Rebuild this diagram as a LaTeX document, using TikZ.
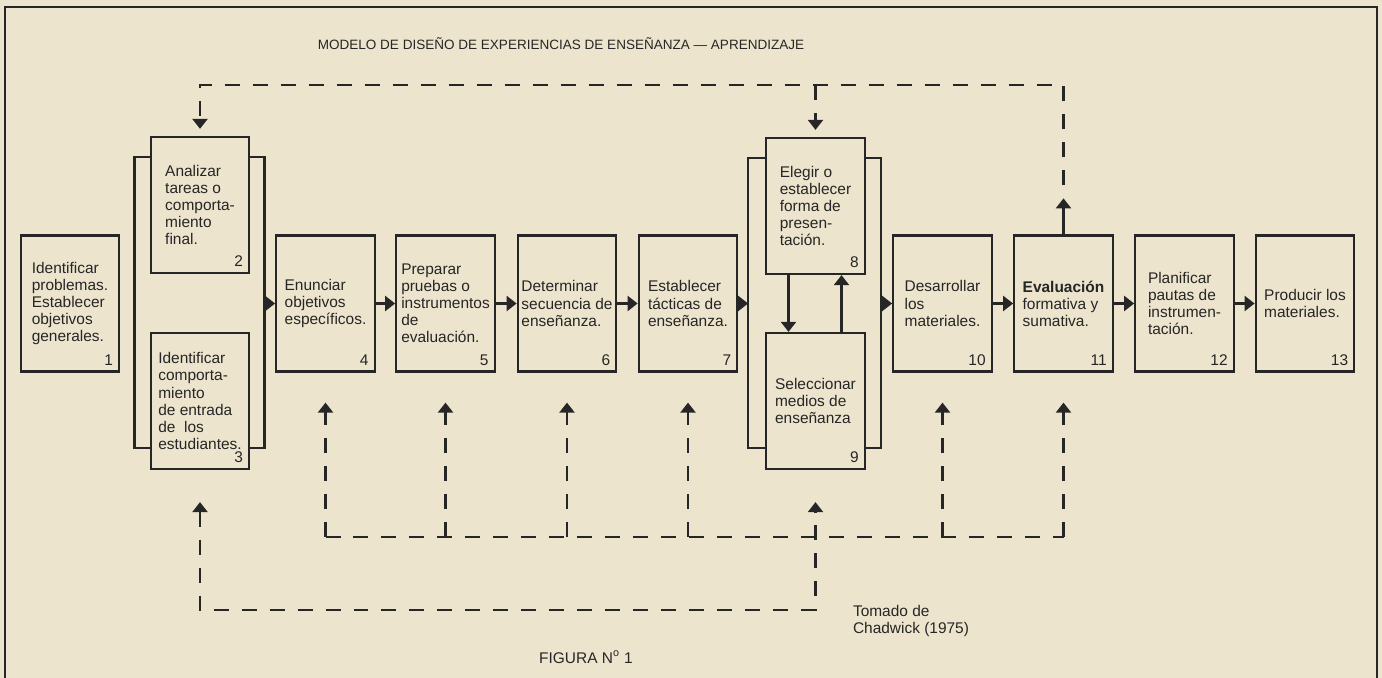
\documentclass[tikz,border=0pt]{standalone}
\usepackage{fontspec}
\setmainfont{Liberation Sans}
\usetikzlibrary{arrows.meta,calc,positioning}

\definecolor{papel}{RGB}{237,228,205}
\definecolor{tinta}{RGB}{38,38,38}

\begin{document}
\begin{tikzpicture}
	[x=0.02cm,y=-0.02cm,line width=1.3pt,color=tinta,
	>={Triangle[width=0.3cm,length=0.2cm]},
	paso/.style={shape=rectangle,draw,minimum width=1.97cm,minimum height=2.72cm,
		inner sep=1pt,align=left,font=\fontsize{8.8}{9.7}\selectfont},
	num/.style={anchor=south east,inner sep=3.5pt,font=\fontsize{8.8}{9.7}\selectfont},
	retro/.style={dash pattern=on 0.3cm off 0.26cm},
	nota/.style={align=left,font=\fontsize{8.8}{9.7}\selectfont}]
	\path[use as bounding box,fill=papel] (0,0) rectangle (1382,678);
	\draw (5,678) -- (5,7) -- (1377,7) -- (1377,678);
	\node[font=\fontsize{7.7}{9}\selectfont] (titulo) at (561,44)
	{MODELO DE DISEÑO DE EXPERIENCIAS DE ENSEÑANZA — APRENDIZAJE};
	% pasos
	\node[paso,label={[num]south east:1}] (p1) at (70,303.5)
	{Identificar\\problemas.\\Establecer\\objetivos\\generales.};
	\node[paso,label={[num]south east:2}] (p2) at (200,205)
	{Analizar\\tareas o\\comporta-\\miento\\final.};
	\node[paso,label={[num]south east:3}] (p3) at (200,401)
	{Identificar\\comporta-\\miento\\de entrada\\de\ \ los\\estudiantes.};
	\node[paso,label={[num]south east:4}] (p4) at (325.5,303.5)
	{Enunciar\\objetivos\\específicos.};
	\node[paso,label={[num]south east:5}] (p5) at (445.5,303.5)
	{Preparar\\pruebas o\\instrumentos\\de\\evaluación.};
	\node[paso,label={[num]south east:6}] (p6) at (567,303.5)
	{Determinar\\secuencia de\\enseñanza.};
	\node[paso,label={[num]south east:7}] (p7) at (688,303.5)
	{Establecer\\tácticas de\\enseñanza.};
	\node[paso,label={[num]south east:8}] (p8) at (815.5,206)
	{Elegir o\\establecer\\forma de\\presen-\\tación.};
	\node[paso,label={[num]south east:9}] (p9) at (815.5,401)
	{Seleccionar\\medios de\\enseñanza};
	\node[paso,label={[num]south east:10}] (p10) at (942.5,303.5)
	{Desarrollar\\los\\materiales.};
	\node[paso,label={[num]south east:11}] (p11) at (1063.5,303.5)
	{\textbf{Evaluación}\\formativa y\\sumativa.};
	\node[paso,label={[num]south east:12}] (p12) at (1184.5,303.5)
	{Planificar\\pautas de\\instrumen-\\tación.};
	\node[paso,label={[num]south east:13}] (p13) at (1305,303.5)
	{Producir los\\materiales.};
	% corchetes
	\draw ($(p2.north west)+(0,21)$) -- ++(-15,0) -- ($(p3.south west)+(-15,-22)$) -- ++(15,0);
	\draw ($(p2.north east)+(0,21)$) -- ++(14,0) -- ($(p3.south east)+(14,-22)$) -- ++(-14,0);
	\draw ($(p8.north west)+(0,21)$) -- ++(-17,0) -- ($(p9.south west)+(-17,-22)$) -- ++(17,0);
	\draw ($(p8.north east)+(0,21)$) -- ++(15,0) -- ($(p9.south east)+(15,-22)$) -- ++(-15,0);
	\coordinate (k1) at ($(p2.east |- p4.west)+(14,0)$);
	\coordinate (k2) at ($(p8.west |- p4.west)+(-17,0)$);
	\coordinate (k3) at ($(p8.east |- p4.west)+(15,0)$);
	% flechas
	\draw[->] (k1) -- (p4);
	\draw[->] (p4) -- (p5);
	\draw[->] (p5) -- (p6);
	\draw[->] (p6) -- (p7);
	\draw[->] (p7) -- (k2);
	\draw[->] (k3) -- (p10);
	\draw[->] (p10) -- (p11);
	\draw[->] (p11) -- (p12);
	\draw[->] (p12) -- (p13);
	\draw[->] ($(p8.south)+(-27,0)$) -- ($(p9.north)+(-27,0)$);
	\draw[->] ($(p9.north)+(26,0)$) -- ($(p8.south)+(26,0)$);
	% retroalimentacion
	\coordinate (arriba) at (0,85);
	\coordinate (abajo) at (0,537);
	\coordinate (fondo) at (0,610);
	\coordinate (e11) at ($(p11.north)+(0,-36)$);
	\draw[->] (p11.north) -- (e11);
	\draw[retro,->,shorten >=0.14cm,dash phase=0.3cm] (e11) |- (p2.north |- arriba) -- (p2.north);
	\draw[retro,->,shorten >=0.14cm] (p8.north |- arriba) -- (p8.north);
	\draw[retro] (p4.south |- abajo) -- (p11.south |- abajo);
	\draw[retro,->,shorten >=0.6cm] (p4.south |- abajo) -- (p4.south);
	\draw[retro,->,shorten >=0.6cm] (p5.south |- abajo) -- (p5.south);
	\draw[retro,->,shorten >=0.6cm] (p6.south |- abajo) -- (p6.south);
	\draw[retro,->,shorten >=0.6cm] (p7.south |- abajo) -- (p7.south);
	\draw[retro,->,shorten >=0.6cm] (p10.south |- abajo) -- (p10.south);
	\draw[retro,->,shorten >=0.6cm] (p11.south |- abajo) -- (p11.south);
	\draw[retro,<->,shorten <=0.64cm,shorten >=0.64cm] (p3.south) -- (p3.south |- fondo)
	-- (p9.south |- fondo) -- (p9.south);
	\node[nota,anchor=north west] (fuente) at (846,598) {Tomado de\\Chadwick (1975)};
	\node[nota] (figura) at (586,657) {FIGURA N\textsuperscript{o} 1};
\end{tikzpicture}
\end{document}
